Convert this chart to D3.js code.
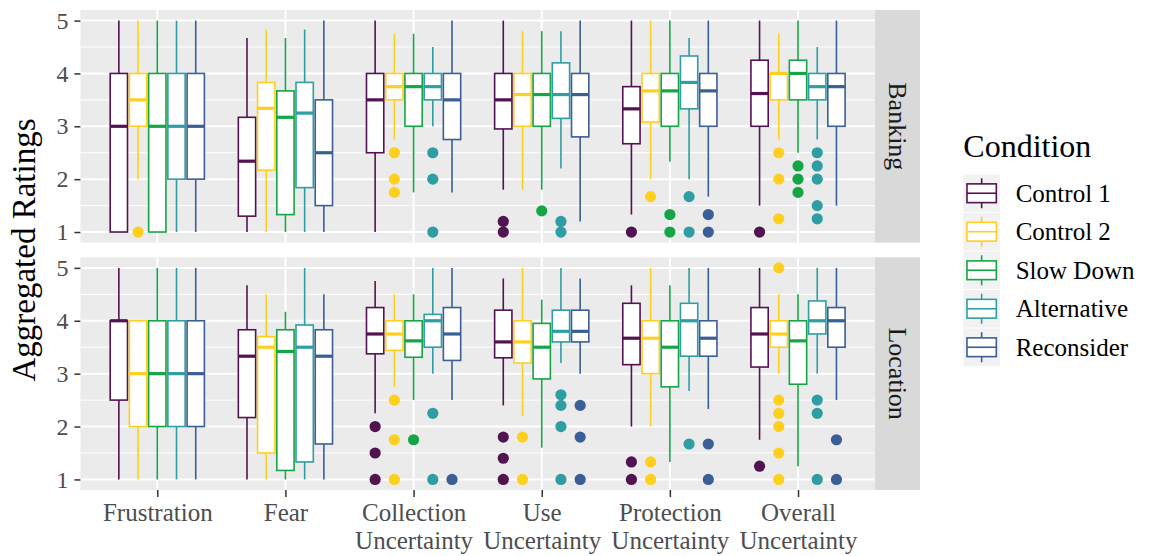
<!DOCTYPE html>
<html lang="en">
<head>
<meta charset="UTF-8">
<title>Aggregated Ratings</title>
<style>
  body { margin: 0; background: #fff; }
  text { font-family: "Liberation Serif", "DejaVu Serif", serif; }
</style>
</head>
<body>
<script src="https://cdn.jsdelivr.net/npm/d3@7"></script>
<script>
// categories and tick labels
var categories = ["Frustration", "Fear", "Collection Uncertainty", "Use Uncertainty", "Protection Uncertainty", "Overall Uncertainty"];
var tickLabels = [["Frustration"], ["Fear"], ["Collection", "Uncertainty"], ["Use", "Uncertainty"], ["Protection", "Uncertainty"], ["Overall", "Uncertainty"]];
var conditions = ["Control 1", "Control 2", "Slow Down", "Alternative", "Reconsider"];
var colors = ["#521450", "#FFCF20", "#15A547", "#2E9EA2", "#3A5E96"];
var yTicks = [1, 2, 3, 4, 5];

// box stats per category, per condition: [lower whisker, q1, median, q3, upper whisker]
var bankingBoxes = [
  [[1, 1, 3, 4, 5], [2, 3, 3.5, 4, 5], [1, 1, 3, 4, 5], [1, 2, 3, 4, 5], [1, 2, 3, 4, 5]],
  [[1, 1.3, 2.34, 3.17, 4.67], [1, 2.17, 3.34, 3.83, 4.83], [1, 1.33, 3.17, 3.67, 4.67], [1, 1.84, 3.25, 3.83, 4.83], [1, 1.5, 2.5, 3.5, 5]],
  [[1, 2.5, 3.5, 4, 5], [2.75, 3.5, 3.75, 4, 4.75], [1.75, 3, 3.75, 4, 4.75], [3, 3.5, 3.75, 4, 4.5], [1.75, 2.75, 3.5, 4, 5]],
  [[1.8, 2.95, 3.5, 4, 5], [1.8, 3, 3.6, 4, 4.8], [1.8, 3, 3.6, 4, 4.8], [2.2, 3.15, 3.6, 4.2, 4.8], [1.2, 2.8, 3.6, 4, 5]],
  [[1.33, 2.67, 3.33, 3.75, 5], [2, 3.08, 3.67, 4, 5], [2.33, 3, 3.67, 4, 5], [2, 3.33, 3.83, 4.33, 4.67], [1.67, 3, 3.67, 4, 5]],
  [[1.5, 3, 3.62, 4.25, 5], [2.75, 3.5, 4, 4, 4.75], [2.5, 3.5, 4, 4.25, 5], [2.75, 3.5, 3.75, 4, 4.5], [1.5, 3, 3.75, 4, 5]]
];
var bankingOutliers = [
  [[], [1], [], [], []],
  [[], [], [], [], []],
  [[], [2.5, 2, 1.75], [], [2.5, 2, 1], []],
  [[1.2, 1], [], [1.4], [1.2, 1], []],
  [[1], [1.67], [1.33, 1], [1.67, 1], [1.33, 1]],
  [[1], [2.5, 2, 1.25], [2.25, 2, 1.75], [2.5, 2.25, 2, 1.5, 1.25], []]
];
var locationBoxes = [
  [[1, 2.5, 4, 4, 5], [1, 2, 3, 4, 4], [1, 2, 3, 4, 5], [1, 2, 3, 4, 5], [1, 2, 3, 4, 5]],
  [[1, 2.17, 3.33, 3.83, 4.67], [1, 1.5, 3.5, 3.7, 4.5], [1, 1.17, 3.42, 3.83, 4.17], [1, 1.33, 3.5, 3.92, 5], [1, 1.67, 3.33, 3.83, 4.5]],
  [[2.25, 3.375, 3.75, 4.25, 4.75], [2.75, 3.44, 3.75, 4, 4.5], [2.5, 3.31, 3.62, 4, 4.5], [3, 3.5, 4, 4.12, 5], [2.5, 3.25, 3.75, 4.25, 5]],
  [[2.4, 3.3, 3.6, 4.2, 4.8], [2.2, 3.2, 3.6, 4, 5], [1.6, 2.9, 3.5, 3.95, 4.4], [3.2, 3.6, 3.8, 4.2, 5], [3, 3.6, 3.8, 4.2, 4.8]],
  [[2, 3.17, 3.67, 4.33, 4.67], [2, 3, 3.67, 4, 5], [1.33, 2.75, 3.5, 4, 4.67], [2.67, 3.33, 4, 4.33, 5], [2.33, 3.33, 3.67, 4, 5]],
  [[1.75, 3.125, 3.75, 4.25, 5], [3, 3.5, 3.75, 4, 4.5], [1.25, 2.8, 3.62, 4, 4.5], [3, 3.75, 4, 4.375, 5], [2.5, 3.5, 4, 4.25, 5]]
];
var locationOutliers = [
  [[], [], [], [], []],
  [[], [], [], [], []],
  [[2, 1.5, 1], [2.5, 1.75, 1], [1.75], [2.25, 1], [1]],
  [[1.8, 1.4, 1], [1.8, 1], [], [2.6, 2.4, 2, 1], [2.4, 1.8, 1]],
  [[1.33, 1], [1.33, 1], [], [1.67], [1.67, 1]],
  [[1.25], [5, 2.5, 2.25, 2, 1.5, 1], [], [2.5, 2.25, 1], [1.75, 1]]
];

var W = 1151, H = 556;
var panelLeft = 80.4, panelRight = 874.9;
var facets = [
  {name: "Banking", top: 10, bottom: 242.6, boxes: bankingBoxes, outliers: bankingOutliers},
  {name: "Location", top: 257.3, bottom: 490, boxes: locationBoxes, outliers: locationOutliers}
];

var svg = d3.select("body").append("svg").attr("width", W).attr("height", H);

var x = d3.scalePoint().domain(categories).range([panelLeft, panelRight]).padding(0.6);
var step = x.step();
var dodge = d3.scaleBand().domain(conditions).range([-0.375 * step, 0.375 * step]);
var boxW = dodge.bandwidth() * 0.9;
var color = d3.scaleOrdinal().domain(conditions).range(colors);

facets.forEach(function (f, fi) {
  var y = d3.scaleLinear().domain([0.8, 5.2]).range([f.bottom, f.top]);
  var g = svg.append("g");

  // panel background
  g.append("rect").attr("x", panelLeft).attr("y", f.top)
    .attr("width", panelRight - panelLeft).attr("height", f.bottom - f.top)
    .attr("fill", "#EBEBEB");

  // minor grid
  g.selectAll("line.minor").data([1.5, 2.5, 3.5, 4.5]).enter().append("line")
    .attr("x1", panelLeft).attr("x2", panelRight)
    .attr("y1", function (d) { return y(d); }).attr("y2", function (d) { return y(d); })
    .attr("stroke", "#fff").attr("stroke-width", 1);
  // major grid
  g.selectAll("line.major").data(yTicks).enter().append("line")
    .attr("x1", panelLeft).attr("x2", panelRight)
    .attr("y1", function (d) { return y(d); }).attr("y2", function (d) { return y(d); })
    .attr("stroke", "#fff").attr("stroke-width", 2);
  g.selectAll("line.vgrid").data(categories).enter().append("line")
    .attr("x1", function (d) { return x(d); }).attr("x2", function (d) { return x(d); })
    .attr("y1", f.top).attr("y2", f.bottom)
    .attr("stroke", "#fff").attr("stroke-width", 2);

  // boxes
  categories.forEach(function (cat, ci) {
    conditions.forEach(function (cond, k) {
      var s = f.boxes[ci][k];
      var cx = x(cat) + dodge(cond) + dodge.bandwidth() / 2;
      var col = color(cond);
      var bg = g.append("g");
      bg.selectAll("circle").data(f.outliers[ci][k]).enter().append("circle")
        .attr("cx", cx).attr("cy", function (d) { return y(d); })
        .attr("r", 5.6).attr("fill", col);
      bg.append("line").attr("x1", cx).attr("x2", cx).attr("y1", y(s[0])).attr("y2", y(s[1]))
        .attr("stroke", col).attr("stroke-width", 1.6);
      bg.append("line").attr("x1", cx).attr("x2", cx).attr("y1", y(s[3])).attr("y2", y(s[4]))
        .attr("stroke", col).attr("stroke-width", 1.6);
      bg.append("rect").attr("x", cx - boxW / 2).attr("y", y(s[3]))
        .attr("width", boxW).attr("height", y(s[1]) - y(s[3]))
        .attr("fill", "#fff").attr("stroke", col).attr("stroke-width", 1.6);
      bg.append("line").attr("x1", cx - boxW / 2).attr("x2", cx + boxW / 2)
        .attr("y1", y(s[2])).attr("y2", y(s[2]))
        .attr("stroke", col).attr("stroke-width", 3.2);
    });
  });

  // y axis
  var ya = svg.append("g").attr("transform", "translate(" + panelLeft + ",0)")
    .call(d3.axisLeft(y).tickValues(yTicks).tickSize(6).tickPadding(6).tickFormat(d3.format("d")));
  ya.attr("font-family", null).attr("font-size", null);
  ya.select(".domain").remove();
  ya.selectAll(".tick line").attr("stroke", "#333333").attr("stroke-width", 1.5);
  ya.selectAll(".tick text").attr("fill", "#4D4D4D")
    .style("font-size", "24px").style("font-family", "'Liberation Serif', serif");

  // strip
  svg.append("rect").attr("x", 875).attr("y", f.top).attr("width", 45).attr("height", f.bottom - f.top)
    .attr("fill", "#D9D9D9");
  svg.append("text")
    .attr("transform", "translate(889," + ((f.top + f.bottom) / 2) + ") rotate(90)")
    .attr("text-anchor", "middle").attr("font-size", 26).attr("fill", "#1A1A1A")
    .text(f.name);
});

// x axis
var xa = svg.append("g").attr("transform", "translate(0,490)")
  .call(d3.axisBottom(x).tickSize(7).tickFormat(""));
xa.attr("font-family", null).attr("font-size", null);
xa.select(".domain").remove();
xa.selectAll(".tick line").attr("stroke", "#333333").attr("stroke-width", 1.5);
xa.selectAll(".tick").each(function (d, i) {
  var t = d3.select(this).append("text").attr("fill", "#4D4D4D").attr("font-size", 25)
    .attr("text-anchor", "middle");
  tickLabels[i].forEach(function (line, li) {
    t.append("tspan").attr("x", 0).attr("y", 30.7 + li * 28.5).text(line);
  });
});

// y title
svg.append("text")
  .attr("transform", "translate(35,250) rotate(-90)")
  .attr("text-anchor", "middle").attr("font-size", 33).attr("fill", "#000")
  .text("Aggregated Ratings");

// legend
var legend = svg.append("g").attr("transform", "translate(963.3,0)");
legend.append("text").attr("x", 0).attr("y", 157).attr("font-size", 32).text("Condition");
var keyW = 36.7, keyH = 37.5;
conditions.forEach(function (cond, k) {
  var ky = 174.5 + k * 38.5;
  var col = color(cond);
  var kg = legend.append("g").attr("transform", "translate(0," + ky + ")");
  kg.append("rect").attr("width", keyW).attr("height", keyH).attr("fill", "#F2F2F2");
  kg.append("line").attr("x1", keyW / 2).attr("x2", keyW / 2).attr("y1", keyH * 0.1).attr("y2", keyH * 0.25)
    .attr("stroke", col).attr("stroke-width", 1.6);
  kg.append("line").attr("x1", keyW / 2).attr("x2", keyW / 2).attr("y1", keyH * 0.75).attr("y2", keyH * 0.9)
    .attr("stroke", col).attr("stroke-width", 1.6);
  kg.append("rect").attr("x", keyW * 0.1).attr("y", keyH * 0.25)
    .attr("width", keyW * 0.8).attr("height", keyH * 0.5)
    .attr("fill", "#fff").attr("stroke", col).attr("stroke-width", 1.6);
  kg.append("line").attr("x1", keyW * 0.1).attr("x2", keyW * 0.9).attr("y1", keyH * 0.5).attr("y2", keyH * 0.5)
    .attr("stroke", col).attr("stroke-width", 1.6);
  kg.append("text").attr("x", 52.4).attr("y", keyH / 2 + 8.5).attr("font-size", 25).text(cond);
});
</script>
</body>
</html>
